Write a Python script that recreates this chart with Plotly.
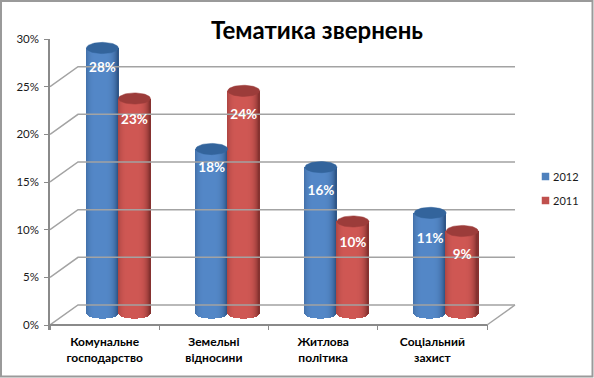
import math
import plotly.graph_objects as go

# ---- data ----
categories = ["Комунальне<br>господарство", "Земельні<br>відносини", "Житлова<br>політика", "Соціальний<br>захист"]
series_names = ["2012", "2011"]
values_2012 = [27.8, 17.2, 15.3, 10.5]
values_2011 = [22.5, 23.3, 9.6, 8.6]
labels_2012 = ["28%", "18%", "16%", "11%"]
labels_2011 = ["23%", "24%", "10%", "9%"]
y_ticks = [0, 5, 10, 15, 20, 25, 30]
y_tick_labels = ["0%", "5%", "10%", "15%", "20%", "25%", "30%"]
title_text = "Тематика звернень"

# ---- style / geometry ----
W, H = 594, 378
L, R, T, B = 50, 487, 39, 325          # front plot rectangle in page pixels
PLOT_R, PLOT_B = 590, 330              # full plotting area in page pixels
PX_X = (R - L) / 4
PX_Y = (B - T) / 30
DEPTH_X = 28 / PX_X
DEPTH_Y = 20 / PX_Y
BAR_W = 32 / PX_X
RY = 5.6 / PX_Y
BASE = 12 / PX_Y
OFFSETS = [0.48, 0.773]
N = 32
FONT = "Lato, 'Noto Sans', sans-serif"
GRID = "#a3a3a3"
AXIS = "#8a8a8a"
KEY = ["#4f81bd", "#c0504d"]
TOPS = ["#33649c", "#9c3c3a"]
LIGHT = [(84, 136, 200), (208, 88, 84)]
DARK = [(44, 82, 130), (126, 46, 44)]
DROP = [[21, 20, 24, 27], [22, 25, 22, 25]]    # label drop below cylinder top, px


def shade(s, t):
    # t in -1..1 across the cylinder; highlight slightly left of centre
    d = abs(t + 0.1) / 1.1
    k = min(1.0, d ** 4)
    c = [LIGHT[s][i] + (DARK[s][i] - LIGHT[s][i]) * k for i in range(3)]
    return "rgb(%d,%d,%d)" % tuple(c)


def xd(px):
    return (px - L) / PX_X


def yd(px):
    return (B - px) / PX_Y


fig = go.Figure()

# walls and floor
gx, gy = [], []
for v in y_ticks[:-1]:
    gx += [0, DEPTH_X, 4 + DEPTH_X, None]
    gy += [v, v + DEPTH_Y, v + DEPTH_Y, None]
gx += [4, 4 + DEPTH_X]
gy += [0, DEPTH_Y]
fig.add_trace(go.Scatter(x=gx, y=gy, mode="lines", line=dict(color=GRID, width=1.5),
                         hoverinfo="skip", showlegend=False))
fig.add_trace(go.Scatter(x=[0, 4], y=[0, 0], mode="lines", line=dict(color=AXIS, width=2),
                         hoverinfo="skip", showlegend=False))

# cylinders
for s, vals in enumerate([values_2012, values_2011]):
    for k in range(N):
        t0 = -1 + 2 * k / N
        t1 = -1 + 2 * (k + 1) / N
        tm = (t0 + t1) / 2
        xs = [i + OFFSETS[s] + tm * BAR_W / 2 for i in range(4)]
        bottom = BASE - RY * math.sqrt(max(0, 1 - tm * tm))
        fig.add_trace(go.Bar(
            x=xs, y=[v + BASE - bottom for v in vals], base=bottom,
            width=(BAR_W / N) * 1.6, marker=dict(color=shade(s, tm), line_width=0),
            hoverinfo="skip", showlegend=False))
    ex, ey = [], []
    for i, v in enumerate(vals):
        for a in range(61):
            ang = 2 * math.pi * a / 60
            ex.append(i + OFFSETS[s] + BAR_W / 2 * math.cos(ang))
            ey.append(v + BASE + RY * math.sin(ang))
        ex.append(None)
        ey.append(None)
    fig.add_trace(go.Scatter(x=ex, y=ey, mode="lines", fill="toself", fillcolor=TOPS[s],
                             line=dict(color=TOPS[s], width=0.5), hoverinfo="skip",
                             showlegend=False))

# value labels
for s, (vals, labs) in enumerate([(values_2012, labels_2012), (values_2011, labels_2011)]):
    fig.add_trace(go.Scatter(
        x=[i + OFFSETS[s] for i in range(4)],
        y=[v + BASE - DROP[s][i] / PX_Y for i, v in enumerate(vals)],
        mode="text", text=labs, textposition="middle center",
        textfont=dict(family=FONT, size=13.5, color="white", weight="bold"),
        hoverinfo="skip", showlegend=False))

# legend key
for s, name in enumerate(series_names):
    ypx = 176.5 + 24 * s
    fig.add_trace(go.Scatter(
        x=[xd(545.5)], y=[yd(ypx)], mode="markers",
        marker=dict(symbol="square", size=7.5, color=KEY[s]),
        hoverinfo="skip", showlegend=False))
    fig.add_annotation(x=xd(551), y=yd(ypx), text=name, showarrow=False, xanchor="left",
                       yanchor="middle", font=dict(family=FONT, size=11, color="#1a1a1a"))

fig.update_layout(
    width=W, height=H, autosize=False,
    margin=dict(l=L, r=W - PLOT_R, t=T, b=H - PLOT_B, pad=0),
    paper_bgcolor="white", plot_bgcolor="white",
    barmode="overlay", bargap=0, showlegend=False,
    title=dict(text=title_text, x=317 / W, xanchor="center", y=1 - 31 / H, yanchor="middle",
               font=dict(family=FONT, size=24, color="black", weight="bold")),
    xaxis=dict(range=[0, xd(PLOT_R)], tickvals=[0.5, 1.5, 2.5, 3.5], ticktext=categories,
               ticks="", showgrid=False, zeroline=False, showline=False,
               ticklabelstandoff=3,
               tickfont=dict(family=FONT, size=12, color="black", weight="bold"),
               minor=dict(tickvals=[0, 1, 2, 3, 4], ticks="inside", ticklen=5,
                          tickcolor=AXIS, tickwidth=1)),
    yaxis=dict(range=[yd(PLOT_B), 30], tickvals=y_ticks, ticktext=y_tick_labels, ticks="outside", ticklen=4,
               tickcolor=AXIS, showgrid=False, zeroline=False, showline=True,
               linecolor=AXIS, linewidth=1.5, ticklabelstandoff=3,
               tickfont=dict(family=FONT, size=11.5, color="#1a1a1a")),
    shapes=[dict(type="rect", xref="paper", yref="paper",
                 x0=(1 - L) / (PLOT_R - L), x1=(592.5 - L) / (PLOT_R - L),
                 y0=(PLOT_B - 376.5) / (PLOT_B - T), y1=(PLOT_B - 1) / (PLOT_B - T),
                 line=dict(color="#9a9a9a", width=2), layer="below")],
)

fig.write_html("out.html", config=dict(displayModeBar=False),
               post_script="document.body.style.margin='0';document.body.style.overflow='hidden';")
